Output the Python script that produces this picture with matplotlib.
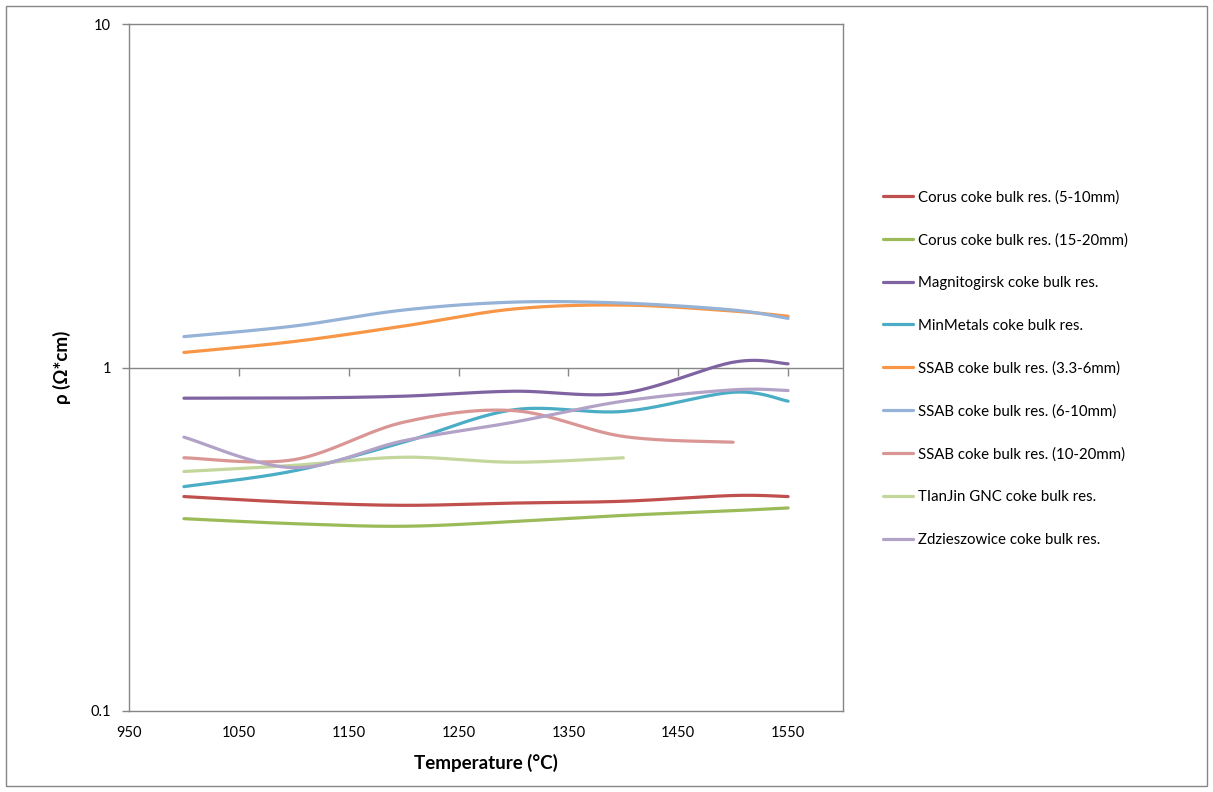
import matplotlib

matplotlib.use("Agg")
import matplotlib.pyplot as plt
import numpy as np
from matplotlib.patches import Rectangle

plt.rcParams["font.family"] = ["Lato", "DejaVu Sans"]

# values (rho in Ohm*cm)
temps = [1000, 1100, 1200, 1300, 1400, 1500, 1550]
corus_5_10 = [0.421, 0.405, 0.397, 0.403, 0.408, 0.424, 0.421]
corus_15_20 = [0.363, 0.351, 0.345, 0.356, 0.371, 0.383, 0.390]
magnitogirsk = [0.814, 0.815, 0.825, 0.853, 0.842, 1.036, 1.025]
minmetals = [0.450, 0.500, 0.606, 0.753, 0.745, 0.847, 0.798]
ssab_33_6 = [1.106, 1.19, 1.32, 1.48, 1.52, 1.46, 1.41]
ssab_6_10 = [1.23, 1.32, 1.47, 1.55, 1.54, 1.47, 1.39]
ssab_10_20 = [0.546, 0.539, 0.693, 0.749, 0.630, 0.606]
tianjin = [0.498, 0.519, 0.548, 0.530, 0.546]
zdzieszowice = [0.627, 0.511, 0.612, 0.693, 0.798, 0.861, 0.857]

series = [
    ("Corus coke bulk res. (5-10mm)", corus_5_10, "#C0504D"),
    ("Corus coke bulk res. (15-20mm)", corus_15_20, "#9BBB59"),
    ("Magnitogirsk coke bulk res.", magnitogirsk, "#8064A2"),
    ("MinMetals coke bulk res.", minmetals, "#4BACC6"),
    ("SSAB coke bulk res. (3.3-6mm)", ssab_33_6, "#F79646"),
    ("SSAB coke bulk res. (6-10mm)", ssab_6_10, "#95B3D7"),
    ("SSAB coke bulk res. (10-20mm)", ssab_10_20, "#D99694"),
    ("TIanJin GNC coke bulk res.", tianjin, "#C3D69B"),
    ("Zdzieszowice coke bulk res.", zdzieszowice, "#B3A2C7"),
]

x_ticks = [950, 1050, 1150, 1250, 1350, 1450, 1550]
y_ticks = [0.1, 1, 10]
y_tick_labels = ["0.1", "1", "10"]


def smooth(x, y, n=40):
    # Excel-style smoothed line: cubic Bezier with Catmull-Rom control points,
    # computed in (x, log y) so it follows the log axis
    p = np.column_stack([np.asarray(x, float), np.log10(y)])
    out = []
    for i in range(len(p) - 1):
        p0 = p[max(i - 1, 0)]
        p1, p2 = p[i], p[i + 1]
        p3 = p[min(i + 2, len(p) - 1)]
        c1 = p1 + (p2 - p0) / 6
        c2 = p2 - (p3 - p1) / 6
        t = np.linspace(0, 1, n)[:, None]
        seg = (1 - t) ** 3 * p1 + 3 * (1 - t) ** 2 * t * c1 + 3 * (1 - t) * t**2 * c2 + t**3 * p2
        out.append(seg if i == 0 else seg[1:])
    seg = np.vstack(out)
    return seg[:, 0], 10 ** seg[:, 1]


fig = plt.figure(figsize=(12.13, 7.92), dpi=100)
ax = fig.add_axes([129 / 1213, 1 - 711 / 792, (843 - 129) / 1213, (711 - 24) / 792])

for label, vals, color in series:
    sx, sy = smooth(temps[: len(vals)], vals)
    ax.plot(sx, sy, color=color, lw=2.3, label=label, solid_capstyle="round")

ax.set_yscale("log")
ax.set_xlim(950, 1600)
ax.set_ylim(0.1, 10)
ax.set_xticks(x_ticks)
ax.set_yticks(y_ticks)
ax.set_yticklabels(y_tick_labels)
ax.yaxis.set_minor_locator(matplotlib.ticker.NullLocator())
ax.tick_params(axis="x", length=0, pad=11, labelsize=10.5, colors="black")
ax.tick_params(axis="y", length=5, width=1, color="#868686", direction="out", pad=8, labelsize=10.5)

for sp in ax.spines.values():
    sp.set_color("#868686")
    sp.set_linewidth(1)

# horizontal axis crosses at rho = 1, ticks hang below it
ax.axhline(1, color="#868686", lw=1, zorder=1)
ax.plot(x_ticks[1:], [1] * (len(x_ticks) - 1), linestyle="none", marker=3,
        markersize=6, color="#868686", mew=1, clip_on=False, zorder=1)

ax.set_xlabel("Temperature (°C)", fontsize=13.5, fontweight="bold", labelpad=10)
ax.set_ylabel("ρ (Ω*cm)", fontsize=13.5, fontweight="bold", labelpad=14)

fig.legend(
    loc="upper left",
    bbox_to_anchor=(883 / 1213, 1 - 190 / 792),
    frameon=False,
    fontsize=10.8,
    handlelength=2.0,
    handletextpad=0.35,
    labelspacing=1.91,
    borderpad=0,
    borderaxespad=0,
)

fig.patches.append(Rectangle((6 / 1213, 6 / 792), 1201 / 1213, 780 / 792, transform=fig.transFigure,
                             fill=False, edgecolor="#868686", lw=1))

fig.savefig("out.png", dpi=100)
